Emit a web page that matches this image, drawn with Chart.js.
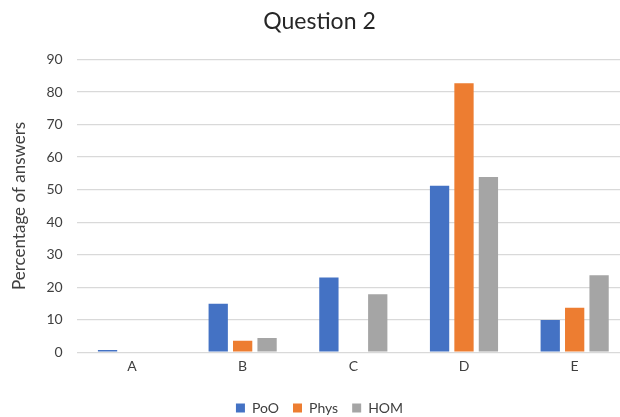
<!DOCTYPE html>
<html>
<head>
<meta charset="utf-8">
<script src="https://cdn.jsdelivr.net/npm/chart.js@4"></script>
<style>
  html, body { margin: 0; padding: 0; background: #fff; overflow: hidden; }
  #wrap { width: 640px; height: 425px; }
</style>
</head>
<body>
<div id="wrap"><canvas id="chart" width="640" height="425"></canvas></div>
<script>
// Answer options and share of answers (%) per group
const categories = ['A', 'B', 'C', 'D', 'E'];
const poo  = [0.7, 14.9, 23.0, 51.2, 9.9];
const phys = [0,   3.5,  0,    82.7, 13.7];
const hom  = [0,   4.4,  17.8, 53.9, 23.7];
const seriesNames = ['PoO', 'Phys', 'HOM'];
const yTicks = [0, 10, 20, 30, 40, 50, 60, 70, 80, 90];

const FONT = 'Lato, "Open Sans", sans-serif';
const colors = ['#4472C4', '#ED7D31', '#A5A5A5'];

const datasets = [poo, phys, hom].map((vals, i) => ({
  label: seriesNames[i],
  data: vals,
  backgroundColor: colors[i],
  borderWidth: 0,
  categoryPercentage: 0.662,
  barPercentage: 0.79
}));

new Chart(document.getElementById('chart'), {
  type: 'bar',
  data: { labels: categories, datasets },
  options: {
    responsive: false,
    animation: false,
    layout: { padding: { left: 9, right: 10, top: 6, bottom: 0 } },
    plugins: {
      title: {
        display: true,
        text: 'Question 2',
        color: '#262626',
        font: { family: FONT, size: 23, weight: 'normal' },
        padding: { top: 2, bottom: 24 }
      },
      legend: {
        position: 'bottom',
        labels: {
          color: '#404040',
          font: { family: FONT, size: 14 },
          boxWidth: 9,
          boxHeight: 9,
          padding: 14
        }
      },
      tooltip: { enabled: false }
    },
    scales: {
      x: {
        grid: { display: false, drawTicks: false },
        border: { display: false },
        ticks: { color: '#404040', font: { family: FONT, size: 14 }, padding: 6 },
        // leave room between the category labels and the legend
        afterFit: (axis) => { axis.height += 6; }
      },
      y: {
        min: 0,
        max: 90,
        afterBuildTicks: (axis) => { axis.ticks = yTicks.map(v => ({ value: v })); },
        grid: { color: '#D9D9D9', lineWidth: 1.3, drawTicks: false },
        border: { display: false },
        ticks: { color: '#404040', font: { family: FONT, size: 14 }, padding: 14 },
        title: {
          display: true,
          text: 'Percentage of answers',
          color: '#404040',
          font: { family: FONT, size: 17 },
          padding: { top: 0, bottom: 3 }
        }
      }
    }
  }
});
</script>
</body>
</html>
